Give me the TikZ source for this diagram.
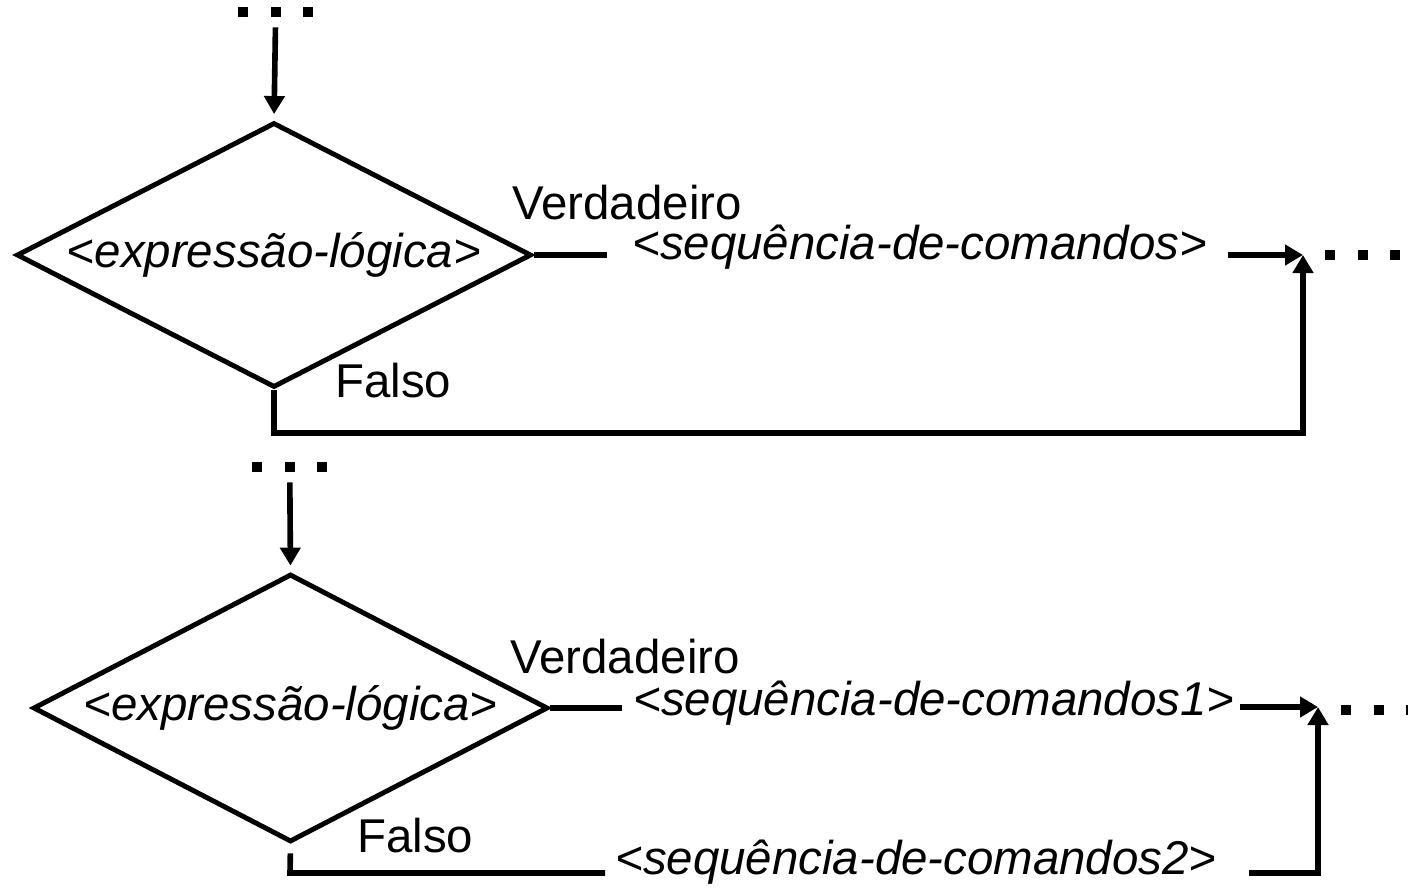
\documentclass[tikz,border=0pt]{standalone}
\usepackage{fontspec}
\setmainfont{Liberation Sans}
\usetikzlibrary{shapes.geometric, positioning, arrows.meta}

\newcommand{\tamanho}{\fontsize{27}{32}\selectfont}
\tikzset{
  decisao/.style={diamond, draw, line width=2.8pt, aspect=1.94, inner sep=0pt, minimum width=10.3cm, minimum height=5.3cm, font=\tamanho\itshape},
  rotulo/.style={inner sep=0pt, anchor=base west, font=\tamanho},
  comando/.style={inner sep=0pt, anchor=base west, font=\tamanho\itshape},
  sq/.style={fill, inner sep=0pt, minimum size=0.2cm},
  linha/.style={line width=3.2pt},
  fluxo/.style={line width=3.2pt, -{Triangle[length=0.36cm, width=0.4cm]}},
}

\begin{document}
\begin{tikzpicture}[x=0.02cm, y=-0.02cm]
        \useasboundingbox (0,0) rectangle (1408,889);

        % primeiro: se-entao
        \node[sq] (a1) at (243,12) {};
        \node[sq] (a2) [right=0.44cm of a1] {};
        \node[sq] (a3) [right=0.44cm of a2] {};
        \node[decisao] (d1) at (274,255) {<expressão-lógica>};
        \node[rotulo] (v1) at (512,219) {Verdadeiro};
        \node[rotulo] (f1) at (335,397) {Falso};
        \node[comando] (seqA) at (632,259) {<sequência-de-comandos>};
        \coordinate (j1) at (1303,255);
        \coordinate (c1) at (274,433);
        \node[sq] (e1) at (1330,255) {};
        \node[sq] (e2) [right=0.44cm of e1] {};
        \node[sq] (e3) [right=0.44cm of e2] {};

        \draw[fluxo, shorten <=0.2cm, shorten >=0.12cm] (a2) -- (d1.north);
        \draw[linha, shorten >=0.5cm] (d1.east) -- (d1.east -| seqA.west);
        \draw[fluxo, shorten <=0.4cm] (seqA.east |- j1) -- (j1);
        \draw[fluxo] (d1.south) -- (c1) -| (j1);

        % segundo: se-entao-senao
        \node[sq] (b1) at (257,467) {};
        \node[sq] (b2) [right=0.44cm of b1] {};
        \node[sq] (b3) [right=0.44cm of b2] {};
        \node[decisao, minimum height=5.36cm] (d2) at (290.5,708) {<expressão-lógica>};
        \node[rotulo] (v2) at (510,673) {Verdadeiro};
        \node[rotulo] (f2) at (357,852) {Falso};
        \node[comando] (seqB) at (633,715) {<sequência-de-comandos1>};
        \node[comando] (seqC) at (615,874) {<sequência-de-comandos2>};
        \coordinate (j2) at (1318,707);
        \coordinate (c2) at (290,873);
        \node[sq] (g1) at (1346,710) {};
        \node[sq] (g2) [right=0.44cm of g1] {};
        \node[sq] (g3) [right=0.44cm of g2] {};

        \draw[fluxo, shorten <=0.2cm, shorten >=0.12cm] (b2) -- (d2.north);
        \draw[linha, shorten >=0.22cm] (d2.east) -- (d2.east -| seqB.west);
        \draw[fluxo, shorten <=0.1cm] (seqB.east |- j2) -- (j2);
        \draw[linha, shorten <=0.18cm, shorten >=0.2cm] (d2.south) -- (c2) -- (c2 -| seqC.west);
        \draw[fluxo, shorten <=0.64cm] (seqC.east |- c2) -| (j2);
\end{tikzpicture}
\end{document}
